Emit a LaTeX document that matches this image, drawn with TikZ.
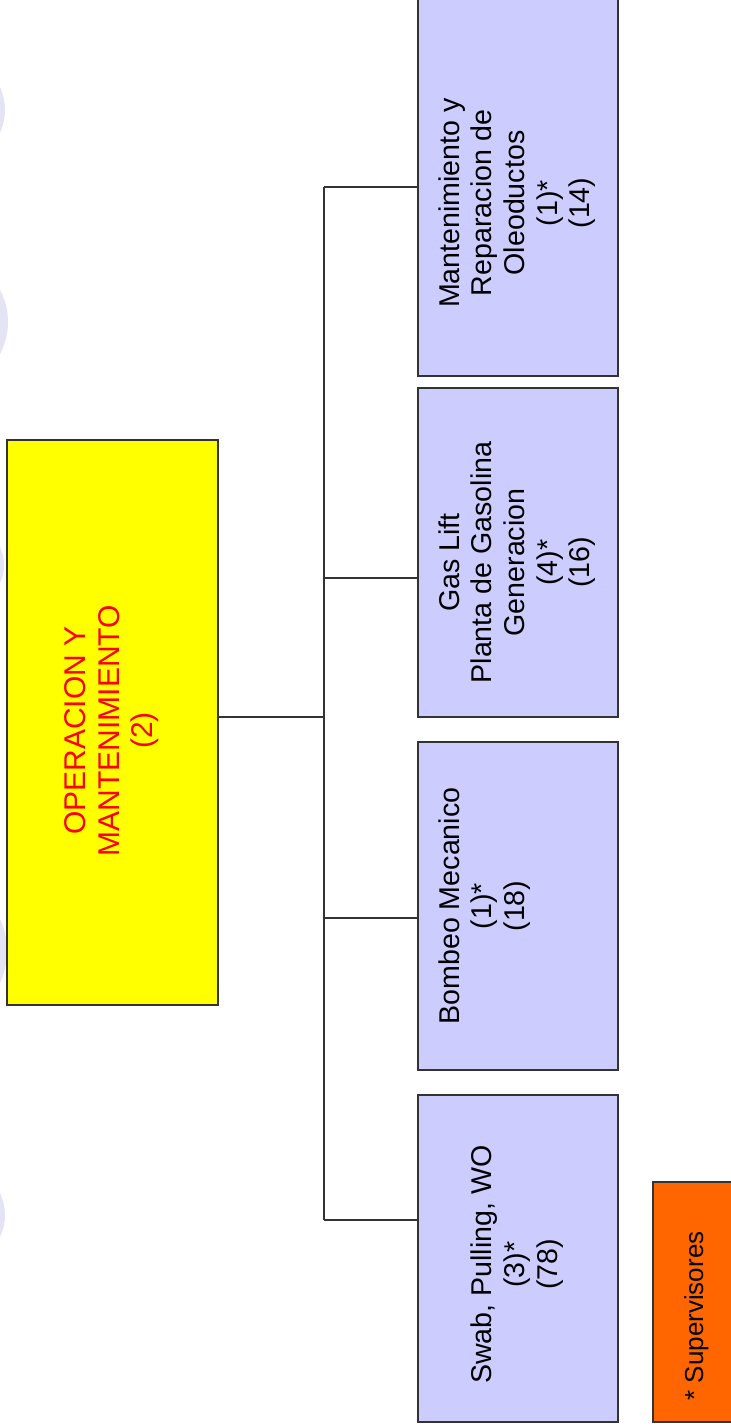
\documentclass[tikz,border=0pt]{standalone}
\usepackage{fontspec}
\setmainfont{Liberation Sans}
\usepackage{graphicx}
\usepackage{tikz}
\usetikzlibrary{positioning}
\definecolor{unitblue}{RGB}{204,204,255}
\definecolor{headyellow}{RGB}{255,255,0}
\definecolor{noteorange}{RGB}{255,102,0}
\definecolor{edgegray}{RGB}{51,51,51}
\definecolor{ringlilac}{RGB}{228,228,244}
% rotated multi-line text, optional push towards the bottom
\newcommand{\uplines}[2][0pt]{\rotatebox{90}{\begin{tabular}{@{}c@{}}#2\end{tabular}\hspace*{#1}}}
\tikzset{
  orgbox/.style={draw=edgegray,line width=1pt,inner sep=0pt,align=center,font=\fontsize{14.3}{16.3}\selectfont},
  unitbox/.style={orgbox,fill=unitblue,minimum width=100pt},
  headbox/.style={orgbox,fill=headyellow,text=red,minimum width=105.5pt,minimum height=282.5pt,font=\fontsize{15}{16.6}\selectfont},
  notebox/.style={orgbox,fill=noteorange,minimum width=44pt,minimum height=120pt,font=\fontsize{13}{15}\selectfont},
  link/.style={draw=edgegray,line width=1pt},
  ring/.style={fill=ringlilac,draw=none}
}

\begin{document}
\begin{tikzpicture}[x=0.5pt,y=-0.5pt]
\useasboundingbox (0,0) rectangle (731,1427);
\clip (0,0) rectangle (731,1427);
% faint rings at the left edge
\fill[ring] (-50,110) circle (55);
\fill[ring] (-60,322) circle (68);
\fill[ring] (-38,565) circle (42);
\fill[ring] (-70,951) circle (77);
\fill[ring] (-46,1215) circle (51);
% head
\node[headbox] (head) at (112.5,722.5) {\uplines[8pt]{OPERACION Y\\MANTENIMIENTO\\(2)}};
% units
\node[unitbox,minimum height=189pt] (oleo) at (518,187) {\uplines[16pt]{Mantenimiento y\\Reparacion de\\Oleoductos\\(1)*\\(14)}};
\node[unitbox,minimum height=164.5pt] (gas) at (518,552.5) {\uplines[10pt]{Gas Lift\\Planta de Gasolina\\Generacion\\(4)*\\(16)}};
\node[unitbox,minimum height=164pt] (bombeo) at (518,906) {\uplines{Bombeo Mecanico\\(1)*\\(18)\\~\\~}};
\node[unitbox,minimum height=163.5pt] (swab) at (518,1258.5) {\uplines[6pt]{Swab, Pulling, WO\\(3)*\\(78)}};
% note
\node[notebox] (note) at (697,1302) {\uplines[14pt]{* Supervisores}};
% connectors
\coordinate (tHead) at (324,717);
\coordinate (tOleo) at (324,187);
\coordinate (tGas) at (324,578);
\coordinate (tBombeo) at (324,918);
\coordinate (tSwab) at (324,1220);
\draw[link] (tOleo) -- (tSwab);
\draw[link] (head.east |- tHead) -- (tHead);
\draw[link] (tOleo) -- (tOleo -| oleo.west);
\draw[link] (tGas) -- (tGas -| gas.west);
\draw[link] (tBombeo) -- (tBombeo -| bombeo.west);
\draw[link] (tSwab) -- (tSwab -| swab.west);
\end{tikzpicture}
\end{document}
